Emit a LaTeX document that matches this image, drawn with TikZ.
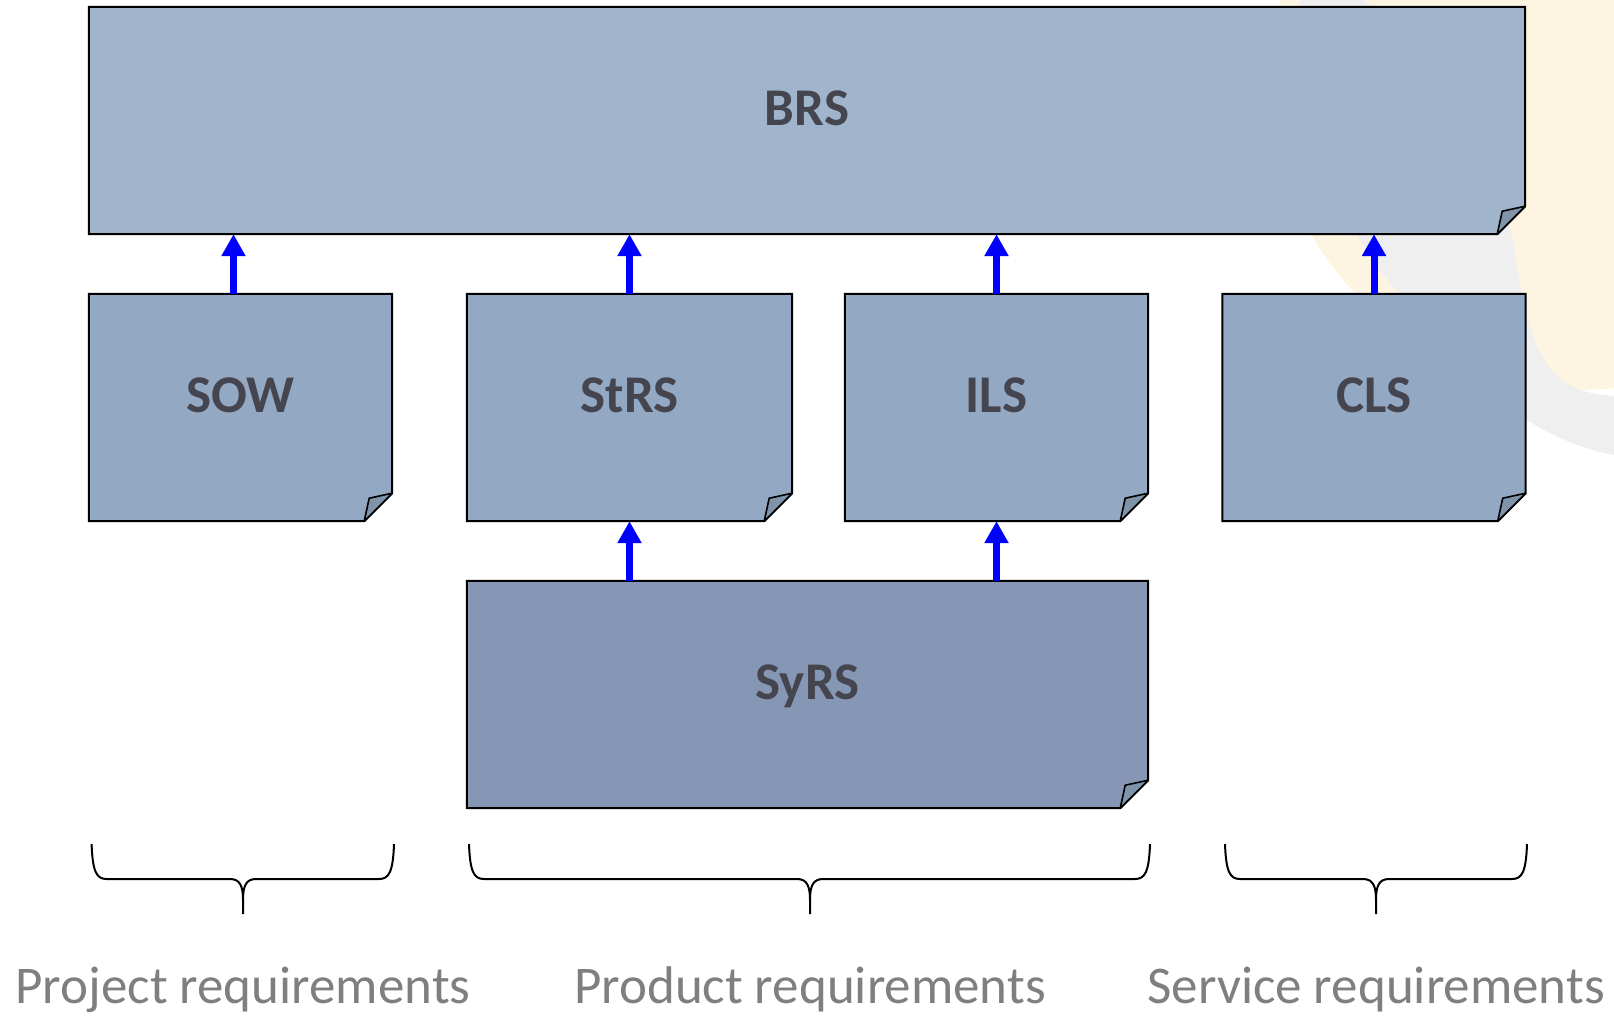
\documentclass[tikz,border=0pt]{standalone}
\usepackage{fontspec}
\setmainfont{Carlito}
\usetikzlibrary{arrows.meta}
\definecolor{brsfill}{HTML}{A0B5CB}
\definecolor{rowfill}{HTML}{93A8C2}
\definecolor{syrsfill}{HTML}{8697B5}
\definecolor{flapfill}{HTML}{7F93A9}
\definecolor{doctext}{HTML}{45454F}
\definecolor{grouptext}{HTML}{7F7F7F}
\definecolor{logoyellow}{HTML}{FDF5E2}
\definecolor{logogray}{HTML}{EFEFEF}
\definecolor{linkblue}{HTML}{0000FF}
\pgfdeclarelayer{emblem}
\pgfdeclarelayer{bg}
\pgfsetlayers{emblem,bg,main}
% a document sheet with a turned-up lower right corner
\newcommand\sheet[2]{%
  \filldraw[fill=#2, line width=2pt, line join=miter]
    (#1.north west) -- (#1.north east) -- ([yshift=28pt]#1.south east)
    -- ([xshift=-28pt]#1.south east) -- (#1.south west) -- cycle;
  \filldraw[fill=flapfill, line width=1.6pt, line join=round]
    ([xshift=-28pt]#1.south east) -- ([xshift=-23pt,yshift=23pt]#1.south east)
    -- ([yshift=28pt]#1.south east) -- cycle;
}
% curly brace opening downwards: left x, right x, centre x
\newcommand\groupbrace[3]{%
  \draw[line width=2pt]
    (#1,844) .. controls (#1+1,872) and (#1+5,879) .. (#1+15,879)
    -- (#3-13,879) .. controls (#3-3,879) and (#3,886) .. (#3,900) -- (#3,914);
  \draw[line width=2pt]
    (#2,844) .. controls (#2-1,872) and (#2-5,879) .. (#2-15,879)
    -- (#3+13,879) .. controls (#3+3,879) and (#3,886) .. (#3,900);
}
\begin{document}
\begin{tikzpicture}[x=1pt,y=-1pt,
  docnode/.style={rectangle, inner sep=0pt, text height=34pt, text depth=25pt,
    text=doctext, font=\fontsize{53}{60}\selectfont\bfseries},
  grouplabel/.style={anchor=base, inner sep=0pt, text=grouptext,
    font=\fontsize{53}{60}\selectfont},
  uparrow/.style={draw=linkblue, line width=7pt,
    -{Triangle[width=23pt,length=22pt]}}]
\useasboundingbox (0,0) rectangle (1614,1015);

% faint emblem in the upper right corner
\begin{pgfonlayer}{emblem}
\begin{scope}
  \clip (0,0) rectangle (1614,1015);
  \fill[logoyellow] (1580,80) circle[radius=310];
  \fill[logogray] (1300,0) .. controls (1310,120) and (1330,220) .. (1400,294)
    .. controls (1450,370) and (1530,440) .. (1614,455)
    -- (1614,396) .. controls (1565,392) and (1530,380) .. (1515,250)
    .. controls (1490,130) and (1420,40) .. (1363,0) -- cycle;
\end{scope}
\end{pgfonlayer}

% document nodes
\node[docnode, minimum width=1436pt, minimum height=227pt] (brs)  at (807,120.5)  {BRS};
\node[docnode, minimum width=303pt,  minimum height=227pt] (sow)  at (240.5,407.5) {SOW};
\node[docnode, minimum width=325pt,  minimum height=227pt] (strs) at (629.5,407.5) {StRS};
\node[docnode, minimum width=303pt,  minimum height=227pt] (ils)  at (996.5,407.5) {ILS};
\node[docnode, minimum width=303pt,  minimum height=227pt] (cls)  at (1374,407.5)  {CLS};
\node[docnode, minimum width=681pt,  minimum height=227pt] (syrs) at (807.5,694.5) {SyRS};

\begin{pgfonlayer}{bg}
  \sheet{brs}{brsfill}
  \sheet{sow}{rowfill}
  \sheet{strs}{rowfill}
  \sheet{ils}{rowfill}
  \sheet{cls}{rowfill}
  \sheet{syrs}{syrsfill}
\end{pgfonlayer}

% trace links
\draw[uparrow] ([xshift=-7pt]sow.north) -- ([xshift=-7pt]sow.north |- brs.south);
\draw[uparrow] (strs.north) -- (strs.north |- brs.south);
\draw[uparrow] (ils.north) -- (ils.north |- brs.south);
\draw[uparrow] (cls.north) -- (cls.north |- brs.south);
\draw[uparrow] (strs.south |- syrs.north) -- (strs.south);
\draw[uparrow] (ils.south |- syrs.north) -- (ils.south);

% groupings
\groupbrace{91.6}{394}{243}
\groupbrace{469}{1150}{810}
\groupbrace{1225}{1527}{1376}
\node[grouplabel] (projreq) at (243,1003)  {Project requirements};
\node[grouplabel] (prodreq) at (810,1003)  {Product requirements};
\node[grouplabel] (servreq) at (1376,1003) {Service requirements};
\end{tikzpicture}
\end{document}
